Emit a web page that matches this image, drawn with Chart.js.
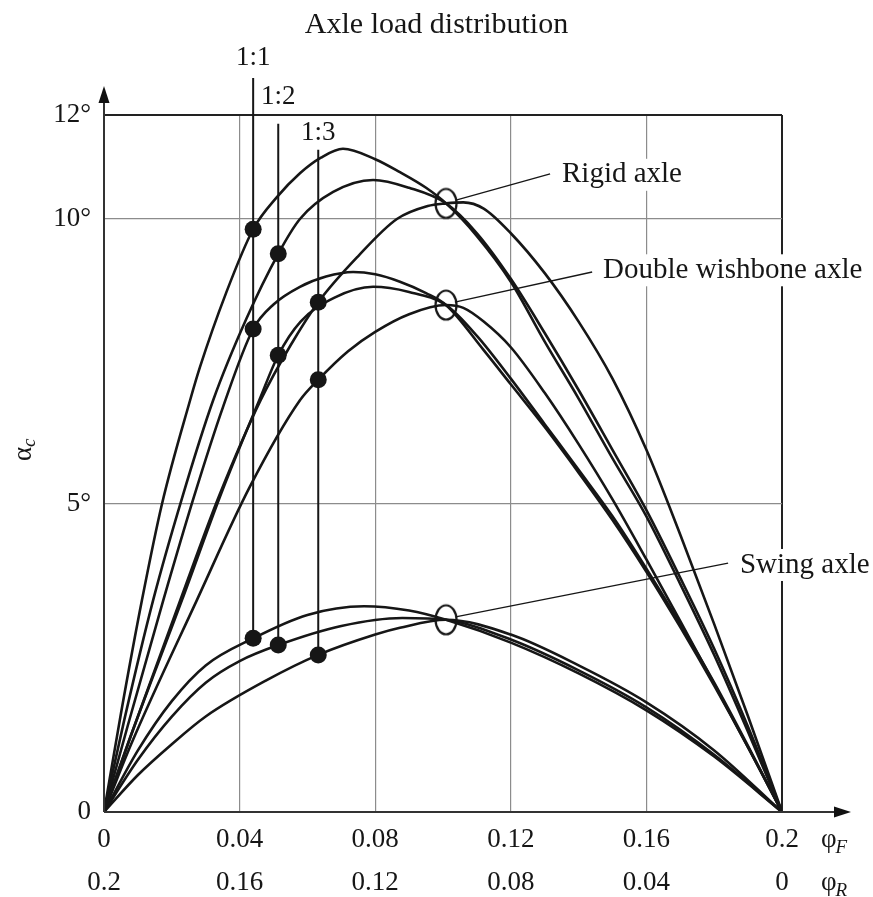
<!DOCTYPE html>
<html>
<head>
<meta charset="utf-8">
<title>Axle load distribution</title>
<script src="https://cdn.jsdelivr.net/npm/chart.js@4.4.0/dist/chart.umd.min.js"></script>
<style>
  html, body { margin: 0; padding: 0; background: #fff; }
</style>
</head>
<body>
<canvas id="chart" width="873" height="897"></canvas>
<script>
// --- data (phi_F on x, alpha_c in degrees on y) ---
const phiFTicks = [0, 0.04, 0.08, 0.12, 0.16, 0.2];
const phiFLabels = ['0', '0.04', '0.08', '0.12', '0.16', '0.2'];
const phiRLabels = ['0.2', '0.16', '0.12', '0.08', '0.04', '0'];
const alphaTicks = [0, 5, 10, 12];
const alphaLabels = ['0', '5°', '10°', '12°'];

// rigid axle, load distribution 1:1 / 1:2 / 1:3
const rigid11X = [0, 0.005, 0.0112, 0.0171, 0.0254, 0.0283, 0.036, 0.044, 0.051, 0.0578, 0.064, 0.0705, 0.08, 0.0873, 0.095, 0.1009, 0.11, 0.12, 0.13, 0.14, 0.15, 0.16, 0.17, 0.18, 0.19, 0.2];
const rigid11Y = [0, 1.6, 3.44, 5.0, 6.82, 7.4, 8.7, 9.82, 10.42, 10.88, 11.18, 11.35, 11.15, 10.9, 10.6, 10.3, 9.7, 8.9, 7.85, 6.85, 5.8, 4.8, 3.7, 2.55, 1.3, 0];
const rigid12X = [0, 0.006, 0.0145, 0.023, 0.0322, 0.042, 0.0514, 0.0578, 0.0676, 0.0794, 0.09, 0.1009, 0.11, 0.12, 0.13, 0.14, 0.15, 0.16, 0.17, 0.18, 0.19, 0.2];
const rigid12Y = [0, 1.5, 3.44, 5.1, 6.82, 8.25, 9.39, 10.0, 10.52, 10.75, 10.6, 10.3, 9.75, 8.95, 8.0, 7.0, 5.95, 4.9, 3.8, 2.65, 1.38, 0];
const rigid13X = [0, 0.008, 0.0225, 0.034, 0.0462, 0.055, 0.0632, 0.075, 0.0864, 0.0955, 0.1009, 0.106, 0.112, 0.12, 0.13, 0.14, 0.15, 0.16, 0.17, 0.18, 0.19, 0.2];
const rigid13Y = [0, 1.25, 3.44, 5.15, 6.82, 7.78, 8.54, 9.35, 10.0, 10.25, 10.3, 10.32, 10.2, 9.75, 9.05, 8.2, 7.2, 5.95, 4.5, 3.05, 1.55, 0];

// double wishbone axle
const wish11X = [0, 0.007, 0.0175, 0.0265, 0.0351, 0.044, 0.05, 0.0578, 0.0655, 0.0735, 0.08, 0.0873, 0.095, 0.1009, 0.112, 0.12, 0.13, 0.14, 0.15, 0.16, 0.17, 0.18, 0.19, 0.2];
const wish11Y = [0, 1.4, 3.44, 5.12, 6.7, 8.07, 8.5, 8.81, 8.99, 9.07, 9.03, 8.9, 8.7, 8.49, 7.7, 7.1, 6.35, 5.55, 4.74, 3.9, 3.0, 2.05, 1.05, 0];
const wish12X = [0, 0.007, 0.023, 0.035, 0.0458, 0.0514, 0.058, 0.068, 0.0794, 0.09, 0.1009, 0.11, 0.12, 0.13, 0.14, 0.15, 0.16, 0.17, 0.18, 0.19, 0.2];
const wish12Y = [0, 1.1, 3.44, 5.25, 6.82, 7.61, 8.2, 8.62, 8.81, 8.72, 8.49, 7.95, 7.2, 6.4, 5.6, 4.8, 3.95, 3.05, 2.1, 1.07, 0];
const wish13X = [0, 0.008, 0.0274, 0.043, 0.0578, 0.0632, 0.072, 0.08, 0.09, 0.1009, 0.106, 0.112, 0.12, 0.13, 0.14, 0.15, 0.16, 0.17, 0.18, 0.19, 0.2];
const wish13Y = [0, 1.1, 3.44, 5.3, 6.82, 7.18, 7.68, 8.02, 8.33, 8.49, 8.44, 8.2, 7.75, 6.95, 6.05, 5.08, 4.1, 3.1, 2.08, 1.05, 0];

// swing axle
const swing11X = [0, 0.01, 0.02, 0.03, 0.044, 0.06, 0.0767, 0.09, 0.1009, 0.12, 0.14, 0.16, 0.18, 0.2];
const swing11Y = [0, 1.0, 1.8, 2.38, 2.82, 3.2, 3.34, 3.27, 3.12, 2.75, 2.25, 1.65, 0.9, 0];
const swing12X = [0, 0.01, 0.02, 0.03, 0.04, 0.0514, 0.07, 0.088, 0.1009, 0.12, 0.14, 0.16, 0.18, 0.2];
const swing12Y = [0, 0.85, 1.55, 2.1, 2.45, 2.71, 3.02, 3.15, 3.12, 2.8, 2.3, 1.7, 0.93, 0];
const swing13X = [0, 0.01, 0.02, 0.03, 0.048, 0.0632, 0.08, 0.0873, 0.1009, 0.12, 0.14, 0.16, 0.18, 0.2];
const swing13Y = [0, 0.6, 1.1, 1.55, 2.14, 2.55, 2.88, 2.99, 3.12, 2.88, 2.38, 1.78, 1.0, 0];

// load distribution markers
const distLabels = ['1:1', '1:2', '1:3'];
const distX = [0.0440, 0.0514, 0.0632];
const distTop = [12.71, 11.83, 11.33];
const distLabelY = [13.1, 12.35, 11.65];
const rigidDots = [9.82, 9.39, 8.54];
const wishDots = [8.07, 7.61, 7.18];
const swingDots = [2.82, 2.71, 2.55];

// common crossing of each axle family and its callout
const axleNames = ['Rigid axle', 'Double wishbone axle', 'Swing axle'];
const crossX = 0.1009;
const crossY = [10.3, 8.49, 3.12];
const leaderFromX = [0.1041, 0.1035, 0.1041];
const leaderFromY = [10.37, 8.54, 3.17];
const leaderToX = [0.1316, 0.1440, 0.1841];
const leaderToY = [10.87, 9.07, 4.04];
const nameX = [0.1351, 0.1472, 0.1876];
const nameY = [10.85, 9.1, 4.01];

// --- styling ---
const SERIF = "'Liberation Serif', 'DejaVu Serif', serif";
const INK = '#161616';
const GRID = '#8c8c8c';

// the printed y axis is not evenly spaced, so map 0/5/10/12 deg to where they sit
const alphaBreaks = [0, 5, 10, 12];
const alphaFractions = [0, 0.4419, 0.8508, 1];

function alphaToDecimal(v) {
  let i = 0;
  while (i < alphaBreaks.length - 2 && v > alphaBreaks[i + 1]) i++;
  const t = (v - alphaBreaks[i]) / (alphaBreaks[i + 1] - alphaBreaks[i]);
  return alphaFractions[i] + t * (alphaFractions[i + 1] - alphaFractions[i]);
}

function decimalToAlpha(d) {
  let i = 0;
  while (i < alphaFractions.length - 2 && d > alphaFractions[i + 1]) i++;
  const t = (d - alphaFractions[i]) / (alphaFractions[i + 1] - alphaFractions[i]);
  return alphaBreaks[i] + t * (alphaBreaks[i + 1] - alphaBreaks[i]);
}

class SketchScale extends Chart.LinearScale {
  getPixelForValue(value) {
    if (value === null || value === undefined) return NaN;
    return this.getPixelForDecimal(alphaToDecimal(value));
  }
  getValueForPixel(pixel) {
    return decimalToAlpha(this.getDecimalForPixel(pixel));
  }
}
SketchScale.id = 'sketch';
SketchScale.defaults = Chart.LinearScale.defaults;
Chart.register(SketchScale);

function points(xs, ys) {
  return xs.map((x, i) => ({ x: x, y: ys[i] }));
}

// open ellipse used to mark the crossing points
function ellipseMark() {
  const c = document.createElement('canvas');
  c.width = 26;
  c.height = 34;
  const g = c.getContext('2d');
  g.strokeStyle = INK;
  g.lineWidth = 2.2;
  g.beginPath();
  g.ellipse(13, 17, 10.5, 14.5, 0, 0, Math.PI * 2);
  g.stroke();
  return c;
}

const curveStyle = {
  type: 'line',
  borderColor: INK,
  borderWidth: 2.6,
  pointRadius: 0,
  fill: false,
  cubicInterpolationMode: 'monotone'
};

const datasets = [];

// dots first so they sit on top
datasets.push({
  type: 'scatter',
  data: points(distX, rigidDots).concat(points(distX, wishDots), points(distX, swingDots)),
  pointRadius: 8.5,
  pointBackgroundColor: INK,
  pointBorderWidth: 0,
  showLine: false
});
datasets.push({
  type: 'scatter',
  data: crossY.map(y => ({ x: crossX, y: y })),
  pointStyle: ellipseMark(),
  showLine: false
});

[
  [rigid11X, rigid11Y], [rigid12X, rigid12Y], [rigid13X, rigid13Y],
  [wish11X, wish11Y], [wish12X, wish12Y], [wish13X, wish13Y],
  [swing11X, swing11Y], [swing12X, swing12Y], [swing13X, swing13Y]
].forEach(([xs, ys]) => {
  datasets.push(Object.assign({ data: points(xs, ys) }, curveStyle));
});

// vertical load distribution lines
distX.forEach((x, i) => {
  datasets.push({
    type: 'line',
    data: [{ x: x, y: distTop[i] }, { x: x, y: swingDots[i] }],
    borderColor: INK,
    borderWidth: 2,
    pointRadius: 0,
    clip: false
  });
});

// leader lines to the axle names
axleNames.forEach((name, i) => {
  datasets.push({
    type: 'line',
    data: [{ x: leaderFromX[i], y: leaderFromY[i] }, { x: leaderToX[i], y: leaderToY[i] }],
    borderColor: INK,
    borderWidth: 1.3,
    pointRadius: 0,
    clip: false
  });
});

function arrow(ctx, x, y, dx, dy) {
  const len = 17, half = 5.5;
  const px = -dy, py = dx;
  ctx.beginPath();
  ctx.moveTo(x, y);
  ctx.lineTo(x - dx * len + px * half, y - dy * len + py * half);
  ctx.lineTo(x - dx * len - px * half, y - dy * len - py * half);
  ctx.closePath();
  ctx.fill();
}

function boxedText(ctx, text, x, y) {
  const w = ctx.measureText(text).width;
  ctx.fillStyle = '#fff';
  ctx.fillRect(x - 4, y - 16, w + 8, 32);
  ctx.fillStyle = INK;
  ctx.fillText(text, x, y);
}

const decorations = {
  id: 'decorations',
  afterDatasetsDraw(chart) {
    const { ctx } = chart;
    const x = chart.scales.x, y = chart.scales.y;
    const x0 = x.getPixelForValue(0), y0 = y.getPixelForValue(0);
    ctx.save();
    ctx.strokeStyle = '#333';
    ctx.fillStyle = '#111';
    ctx.lineWidth = 2;
    ctx.beginPath();
    ctx.moveTo(x0, y0);
    ctx.lineTo(x0, 95);
    ctx.moveTo(x0, y0);
    ctx.lineTo(842, y0);
    ctx.stroke();
    arrow(ctx, x0, 86, 0, -1);
    arrow(ctx, 851, y0, 1, 0);
    ctx.restore();
  },
  afterDraw(chart) {
    const { ctx } = chart;
    const x = chart.scales.x, y = chart.scales.y;
    ctx.save();
    ctx.fillStyle = INK;
    ctx.textBaseline = 'middle';

    // title
    ctx.font = '30px ' + SERIF;
    ctx.textAlign = 'center';
    ctx.fillText('Axle load distribution', chart.width / 2, 25);

    // load distribution labels
    ctx.font = '27px ' + SERIF;
    distLabels.forEach((t, i) => {
      ctx.fillText(t, x.getPixelForValue(distX[i]), y.getPixelForValue(distLabelY[i]));
    });

    // axle names
    ctx.font = '29px ' + SERIF;
    ctx.textAlign = 'left';
    axleNames.forEach((t, i) => {
      boxedText(ctx, t, x.getPixelForValue(nameX[i]), y.getPixelForValue(nameY[i]));
    });

    // y axis title alpha_c
    ctx.save();
    ctx.translate(24, 449);
    ctx.rotate(-Math.PI / 2);
    ctx.font = '27px ' + SERIF;
    const aw = ctx.measureText('α').width;
    ctx.fillText('α', -aw / 2 - 5, 0);
    ctx.font = 'italic 19px ' + SERIF;
    ctx.fillText('c', aw / 2 - 5, 6);
    ctx.restore();

    // phi_F / phi_R at the end of the tick rows
    const fx = x.getPixelForValue(0.2) + 39;
    [['F', 840], ['R', 883]].forEach(([s, ty]) => {
      ctx.font = '27px ' + SERIF;
      ctx.fillText('φ', fx, ty);
      const w = ctx.measureText('φ').width;
      ctx.font = 'italic 19px ' + SERIF;
      ctx.fillText(s, fx + w - 1, ty + 8);
    });
    ctx.restore();
  }
};

Chart.defaults.font.family = SERIF;
Chart.defaults.color = INK;

new Chart(document.getElementById('chart'), {
  data: { datasets: datasets },
  options: {
    responsive: false,
    animation: false,
    devicePixelRatio: 1,
    layout: { padding: { left: 0, right: 91, top: 115, bottom: 0 } },
    plugins: {
      legend: { display: false },
      tooltip: { enabled: false },
      title: { display: false }
    },
    scales: {
      x: {
        type: 'linear',
        min: 0,
        max: 0.2,
        afterFit: s => { s.height = 85; },
        afterBuildTicks: s => { s.ticks = phiFTicks.map(v => ({ value: v })); },
        border: { display: false },
        grid: {
          drawTicks: false,
          color: c => (c.tick && c.tick.value === 0.2 ? '#222' : GRID),
          lineWidth: c => (c.tick && c.tick.value === 0.2 ? 2 : 1.2)
        },
        ticks: {
          padding: 6,
          maxRotation: 0,
          autoSkip: false,
          font: { size: 27, lineHeight: 1.6 },
          callback: (v, i) => [phiFLabels[i], phiRLabels[i]]
        }
      },
      y: {
        type: 'sketch',
        min: 0,
        max: 12,
        afterFit: s => { s.width = 104; },
        afterBuildTicks: s => { s.ticks = alphaTicks.map(v => ({ value: v })); },
        border: { display: false },
        grid: {
          drawTicks: false,
          color: c => (c.tick && c.tick.value === 12 ? '#222' : GRID),
          lineWidth: c => (c.tick && c.tick.value === 12 ? 2 : 1.2)
        },
        ticks: {
          padding: 13,
          autoSkip: false,
          font: { size: 27 },
          callback: (v, i) => alphaLabels[i]
        }
      }
    }
  },
  plugins: [decorations]
});
</script>
</body>
</html>
